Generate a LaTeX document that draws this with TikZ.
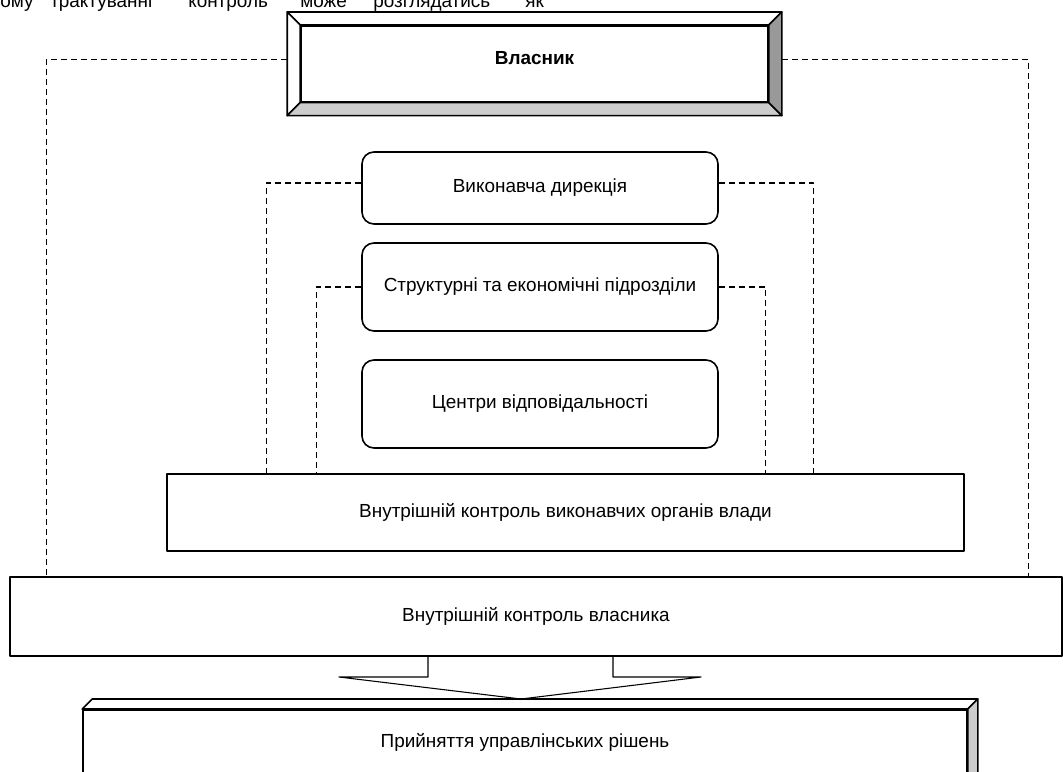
\documentclass[tikz,border=0pt]{standalone}
\usepackage{fontspec}
\setmainfont{Liberation Sans}
\usetikzlibrary{calc}
\tikzset{
	box/.style={draw,line width=1.2pt,fill=white,inner sep=0pt},
	rbox/.style={box,rounded corners=9pt,minimum width=267pt},
	dline/.style={dash pattern=on 4.5pt off 3pt,line width=1pt}
}
\begin{document}
\begin{tikzpicture}[x=0.75pt,y=-0.75pt,line join=round,font=\fontsize{14.2}{16}\selectfont]
	\useasboundingbox (0,0) rectangle (1063,771);
	% dong chu bi cat o tren
	\foreach \i/\x/\w in {1/0/ому,2/50/трактуванні,3/188/контроль,4/300/може,5/373/розглядатись,6/525/як}
		\node[anchor=base west,inner sep=0pt] (w\i) at (\x,7.5) {\w};
	% Власник
	\node[box,anchor=north,minimum width=350.25pt,text height=29pt,text depth=28pt] (vl) at (534.5,25) {\bfseries Власник};
	\path ($(vl.north west)+(-13,-13)$) coordinate (o1)
		($(vl.north east)+(13,-13)$) coordinate (o2)
		($(vl.south east)+(13,13)$) coordinate (o3)
		($(vl.south west)+(-13,13)$) coordinate (o4);
	\filldraw[line width=1.2pt,fill=white] (o1)--(o2)--(vl.north east)--(vl.north west)--cycle;
	\filldraw[line width=1.2pt,fill=white] (o1)--(vl.north west)--(vl.south west)--(o4)--cycle;
	\filldraw[line width=1.2pt,fill=gray!40] (o4)--(vl.south west)--(vl.south east)--(o3)--cycle;
	\filldraw[line width=1.2pt,fill=gray!80] (o2)--(vl.north east)--(vl.south east)--(o3)--cycle;
	% cac khoi giua
	\node[rbox,minimum height=54pt] (vd) at (540,188) {Виконавча дирекція};
	\node[rbox,minimum height=66pt] (sp) at (540,287) {Структурні та економічні підрозділи};
	\node[rbox,minimum height=66pt] (cv) at (540,404) {Центри відповідальності};
	\node[box,minimum width=597.75pt,minimum height=57.75pt] (vk) at (565.5,512.5) {Внутрішній контроль виконавчих органів влади};
	\node[box,minimum width=789pt,minimum height=59.25pt] (vv) at (536,616.5) {Внутрішній контроль власника};
	% duong net dut
	\draw[dline] ([yshift=3pt]o4 |- vl.west) -| ($(vv.north west)+(37,0)$);
	\draw[dline] ([yshift=3pt]o3 |- vl.east) -| ($(vv.north east)+(-34,0)$);
	\draw[dline] ([yshift=3.75pt]vd.west) -| ($(vk.north west)+(100,0)$);
	\draw[dline] ([yshift=3.75pt]vd.east) -| ($(vk.north east)+(-151,0)$);
	\draw[dline] (sp.west) -| ($(vk.north west)+(150,0)$);
	\draw[dline] (sp.east) -| ($(vk.north east)+(-199,0)$);
	% mui ten
	\draw[line width=0.8pt] (428,656)--(428,677)--(339,677)--(521,699)--(701,677)--(613,677)--(613,656);
	% khoi duoi
	\node[box,anchor=north,minimum width=663pt,text height=28pt,text depth=60pt] (pr) at (525,709) {Прийняття управлінських рішень};
	\filldraw[line width=1.2pt,fill=white] (pr.north west)--++(10,-10)--($(pr.north east)+(10,-10)$)--(pr.north east)--cycle;
	\filldraw[line width=1.2pt,fill=gray!40] (pr.north east)--++(10,-10)--($(pr.south east)+(10,-10)$)--(pr.south east)--cycle;
\end{tikzpicture}
\end{document}
